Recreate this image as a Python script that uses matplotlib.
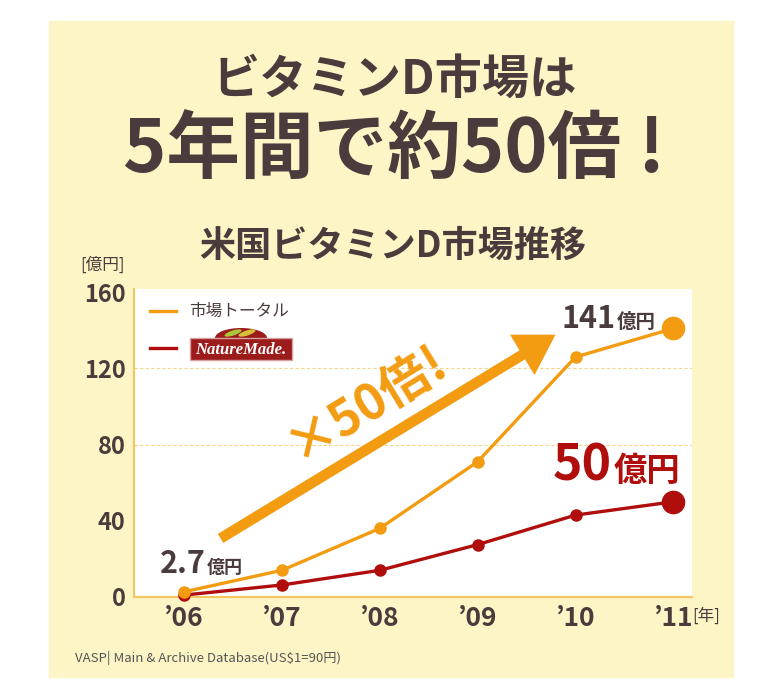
import matplotlib
matplotlib.use("Agg")
import matplotlib.pyplot as plt
from matplotlib.patches import Rectangle, FancyBboxPatch, FancyArrowPatch, Ellipse

plt.rcParams['font.family'] = ['Noto Sans CJK JP', 'DejaVu Sans']

years = ["’06", "’07", "’08", "’09", "’10", "’11"]
market_total = [2.7, 14, 36, 71, 126, 141]
nature_made = [1, 6.3, 14, 27.5, 43, 50]
y_ticks = [0, 40, 80, 120, 160]
grid_levels = [80, 120]

ORANGE = '#f39c12'
RED = '#b00d0d'
DARK = '#4a3b3c'
CREAM = '#fef5c6'
SPINE = '#f4c65e'

W, H = 766, 700
fig = plt.figure(figsize=(W / 100, H / 100), dpi=100, facecolor='white')

def fx(px):
    return px / W

def fy(py):
    return 1 - py / H

# cream panel
fig.patches.append(Rectangle((fx(49), fy(677)), fx(733) - fx(49), fy(21) - fy(677),
                             transform=fig.transFigure, color=CREAM, zorder=-10))

# titles
fig.text(fx(395), fy(80), "ビタミンD市場は", ha='center', va='center',
         fontsize=34, fontweight='bold', color=DARK)
fig.text(fx(394), fy(152), "5年間で約50倍 !", ha='center', va='center',
         fontsize=53, fontweight='bold', color=DARK)
fig.text(fx(393), fy(246), "米国ビタミンD市場推移", ha='center', va='center',
         fontsize=26, fontweight='bold', color=DARK)

ax = fig.add_axes([fx(134), fy(597), fx(692) - fx(134), fy(289) - fy(597)])
ax.set_facecolor('white')
ax.set_zorder(1)
x = list(range(len(years)))

ax.set_xlim(-0.51, 5.19)
ax.set_ylim(0, 161.7)

for g in grid_levels:
    ax.axhline(g, color='#f3d58c', lw=0.8, ls=(0, (3, 2)), zorder=1)

# lines
ax.plot(x, market_total, color=ORANGE, lw=2.4, marker='o', ms=8, zorder=4, clip_on=False)
ax.plot(x, nature_made, color=RED, lw=2.4, marker='o', ms=8, zorder=3, clip_on=False)
ax.plot([x[-1]], [market_total[-1]], 'o', color=ORANGE, ms=16, zorder=5, clip_on=False)
ax.plot([x[-1]], [nature_made[-1]], 'o', color=RED, ms=16, zorder=5, clip_on=False)

for s in ['top', 'right']:
    ax.spines[s].set_visible(False)
for s in ['left', 'bottom']:
    ax.spines[s].set_color(SPINE)
    ax.spines[s].set_linewidth(1.5)

ax.set_yticks(y_ticks)
ax.set_yticklabels([str(v) for v in y_ticks], fontsize=17, fontweight='bold', color=DARK)
ax.set_xticks(x)
ax.set_xticklabels(years, fontsize=19, fontweight='bold', color=DARK)
ax.tick_params(axis='both', length=0)
ax.tick_params(axis='y', pad=6)
ax.tick_params(axis='x', pad=6)

# unit labels
fig.text(fx(102), fy(265), "[億円]", ha='center', va='center', fontsize=12, color=DARK)
fig.text(fx(706), fy(616), "[年]", ha='center', va='center', fontsize=12, color=DARK)
fig.text(fx(75), fy(658), "VASP| Main & Archive Database(US$1=90円)", ha='left', va='center',
         fontsize=9.5, color='#555555')

# big arrow
arrow = FancyArrowPatch((0.35, 30), (3.82, 138.5), transform=ax.transData,
                        arrowstyle='simple,head_length=0.7,head_width=0.85,tail_width=0.19',
                        mutation_scale=40, color=ORANGE, lw=0, zorder=6)
ax.add_patch(arrow)
ax.text(1.87, 102, "×50倍!", rotation=31.5, rotation_mode='anchor', ha='center', va='center',
        fontsize=36, fontweight='bold', color=ORANGE, zorder=6)

# value annotations
ax.text(0.22, 12.5, "2.7", ha='right', va='baseline', fontsize=22, fontweight='bold', color=DARK, zorder=7)
ax.text(0.23, 12.5, "億円", ha='left', va='baseline', fontsize=13, fontweight='bold', color=DARK, zorder=7)
ax.text(4.41, 141, "141", ha='right', va='baseline', fontsize=22, fontweight='bold', color=DARK, zorder=7)
ax.text(4.42, 141, "億円", ha='left', va='baseline', fontsize=14, fontweight='bold', color=DARK, zorder=7)
ax.text(4.37, 61, "50", ha='right', va='baseline', fontsize=36, fontweight='bold', color=RED, zorder=7)
ax.text(4.39, 61, "億円", ha='left', va='baseline', fontsize=24, fontweight='bold', color=RED, zorder=7)

# legend (drawn on top of axes)
fig.lines.append(plt.Line2D([fx(150), fx(176)], [fy(311), fy(311)], color=ORANGE, lw=2.4,
                            transform=fig.transFigure, zorder=20))
fig.lines.append(plt.Line2D([fx(150), fx(176)], [fy(348), fy(348)], color=RED, lw=2.4,
                            transform=fig.transFigure, zorder=20))
fig.text(fx(189), fy(311), "市場トータル", ha='left', va='center', fontsize=12, color=DARK, zorder=20)

# Nature Made logo
arch = Ellipse((fx(241), fy(338)), fx(52) - fx(0), fy(0) - fy(20), transform=fig.transFigure,
               facecolor='#9c1c1c', edgecolor='none', zorder=20)
fig.patches.append(arch)
logo = FancyBboxPatch((fx(190), fy(360)), fx(292) - fx(190), fy(338) - fy(360),
                      boxstyle='square,pad=0', transform=fig.transFigure,
                      facecolor='#9c1c1c', edgecolor='#d9a0a0', lw=1.0, zorder=21)
fig.patches.append(logo)
for cx, col in [(233, '#a8c83a'), (247, '#d8c03a')]:
    leaf = Ellipse((fx(cx), fy(333)), fx(18) - fx(0), fy(0) - fy(5), angle=20,
                   transform=fig.transFigure, facecolor=col, edgecolor='none', zorder=22)
    fig.patches.append(leaf)
fig.text(fx(241), fy(349.5), "NatureMade.", ha='center', va='center', fontsize=12,
         family='Liberation Serif', style='italic', fontweight='bold', color='white', zorder=23)

fig.savefig('out.png', dpi=100, facecolor='white')
